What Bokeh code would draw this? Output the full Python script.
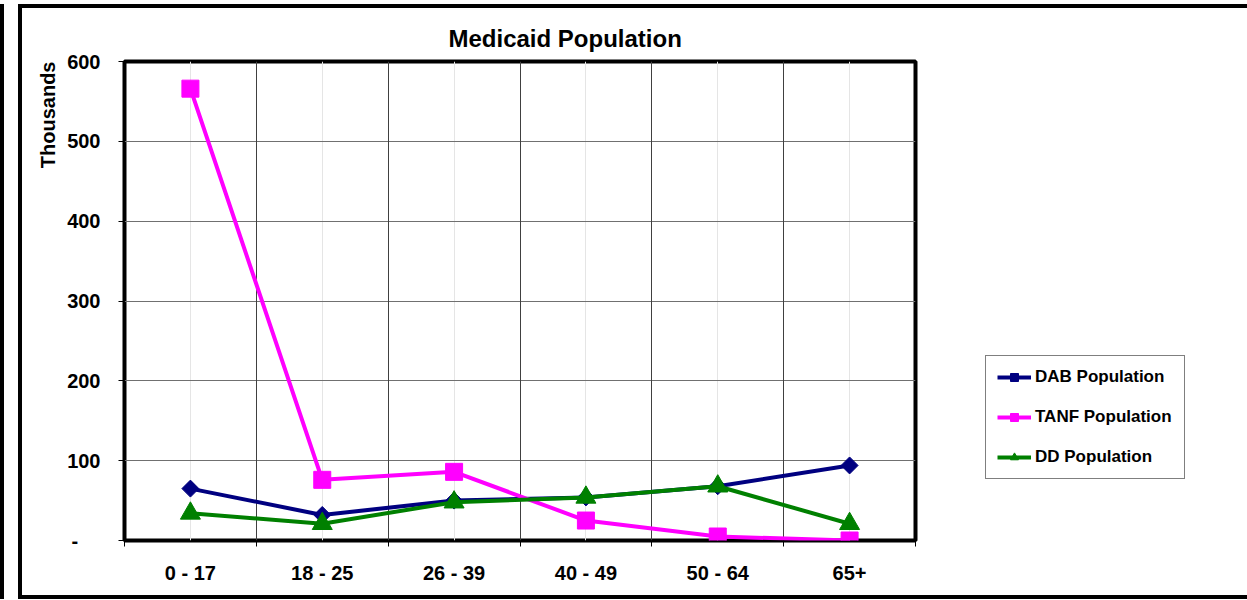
from bokeh.plotting import figure
from bokeh.models import (FactorRange, Range1d, LinearAxis, CategoricalAxis, FixedTicker,
                          Legend, LegendItem, Grid)
from bokeh.embed import file_html
from bokeh.resources import INLINE

categories = ["0 - 17", "18 - 25", "26 - 39", "40 - 49", "50 - 64", "65+"]
dab = [65, 32, 50, 54, 68, 94]
tanf = [566, 76, 86, 25, 5, 0]
dd = [34, 21, 48, 54, 68, 21]
y_ticks = [0, 100, 200, 300, 400, 500, 600]
series_names = ["DAB Population", "TANF Population", "DD Population"]

FONT = "Liberation Sans"

p = figure(x_range=FactorRange(*categories, range_padding=0),
           y_range=Range1d(0, 600),
           frame_width=791, frame_height=479,
           output_backend="svg", toolbar_location=None,
           x_axis_location=None,
           min_border_left=106, min_border_top=57,
           min_border_right=0, min_border_bottom=59)
p.styles = {"margin-left": "18px", "margin-top": "4px",
            "outline": "4px solid black", "outline-offset": "-4px",
            "box-shadow": "-14px 0 0 0 white, -18px 0 0 0 black"}
p.border_fill_alpha = 0
p.background_fill_color = "white"

p.outline_line_color = "black"
p.outline_line_width = 4
p.outline_line_alpha = 1

# title
p.title.text = "Medicaid Population"
p.title.text_font = FONT
p.title.text_font_size = "24px"
p.title.text_font_style = "bold"
p.title.text_color = "black"
p.title.align = "left"
p.title.offset = 324
p.title.standoff = 20

# y axis
ya = p.yaxis[0]
ya.ticker = FixedTicker(ticks=y_ticks)
ya.major_label_overrides = {0: "-\u00a0\u00a0\u00a0\u00a0"}
ya.axis_label = "\u00a0" * 67 + "Thousands"
ya.axis_label_text_font = FONT
ya.axis_label_text_font_size = "20px"
ya.axis_label_text_font_style = "bold"
ya.axis_label_text_color = "black"
ya.axis_label_standoff = 5
ya.major_label_text_font = FONT
ya.major_label_text_font_size = "20px"
ya.major_label_text_font_style = "bold"
ya.major_label_text_color = "black"
ya.major_label_standoff = 18
ya.axis_line_color = None
ya.major_tick_in = 0
ya.major_tick_out = 6
ya.major_tick_line_color = "black"
ya.minor_tick_line_color = None

p.ygrid[0].ticker = FixedTicker(ticks=y_ticks)
p.ygrid[0].grid_line_color = "#707070"
p.ygrid[0].grid_line_width = 1

# x grid at category boundaries (synthetic coordinates of the factor range)
boundaries = list(range(0, len(categories) + 1))
xgrid = Grid(dimension=0, ticker=FixedTicker(ticks=boundaries[1:-1]),
             grid_line_color="#404040", grid_line_width=1)
p.add_layout(xgrid)

# tick-only axis at category boundaries
tick_axis = LinearAxis(ticker=FixedTicker(ticks=boundaries),
                       major_label_overrides={i: "" for i in boundaries},
                       major_label_standoff=0,
                       major_tick_in=0, major_tick_out=6,
                       major_tick_line_color="black",
                       minor_tick_line_color=None,
                       axis_line_color=None)
p.add_layout(tick_axis, "below")

cat_axis = CategoricalAxis(major_tick_line_color=None, axis_line_color=None,
                           major_label_standoff=9,
                           major_label_text_font=FONT,
                           major_label_text_font_size="20px",
                           major_label_text_font_style="bold",
                           major_label_text_color="black")
p.add_layout(cat_axis, "below")

# series
r1l = p.line(categories, dab, line_color="#000080", line_width=4)
r1m = p.scatter(categories, dab, marker="square", angle=0.785398, size=12,
                fill_color="#000080", line_color="#000080")
r2l = p.line(categories, tanf, line_color="#FF00FF", line_width=4)
r2m = p.scatter(categories, tanf, marker="square", size=17,
                fill_color="#FF00FF", line_color="#FF00FF")
r3l = p.line(categories, dd, line_color="#008000", line_width=4)
r3m = p.scatter(categories, dd, marker="triangle", size=20,
                fill_color="#008000", line_color="#008000")

legend = Legend(items=[
    LegendItem(label=series_names[0], renderers=[r1l, r1m]),
    LegendItem(label=series_names[1], renderers=[r2l, r2m]),
    LegendItem(label=series_names[2], renderers=[r3l, r3m]),
], location=(70, 61))
legend.margin = 0
legend.padding = 11
legend.spacing = 20
legend.glyph_width = 34
legend.glyph_height = 20
legend.label_standoff = 4
legend.label_width = 138
legend.label_text_font = FONT
legend.label_text_font_size = "17px"
legend.label_text_font_style = "bold"
legend.label_text_color = "black"
legend.border_line_color = "black"
legend.border_line_width = 1
legend.background_fill_color = "white"
legend.background_fill_alpha = 1
p.add_layout(legend, "right")

open("out.html", "w").write(file_html(p, INLINE))
